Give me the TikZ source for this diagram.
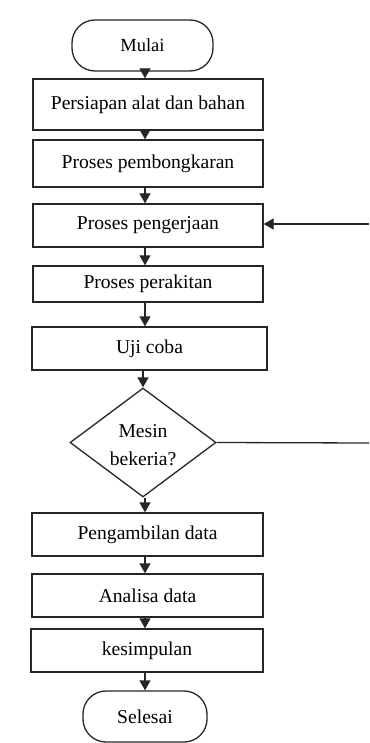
\documentclass[tikz,border=0pt]{standalone}
\usepackage{fontspec}
\setmainfont{Liberation Serif}
\usetikzlibrary{arrows.meta,shapes.geometric}
\begin{document}
\begin{tikzpicture}[x=1pt,y=-1pt,
  base/.style={draw=black!85,line width=1.3pt,inner sep=0pt,align=center,
    font=\fontsize{19.6}{27}\selectfont},
  boxnode/.style={base,rectangle},
  term/.style={base,rectangle,rounded corners=23pt},
  decide/.style={base,diamond,minimum width=146pt,minimum height=109pt},
  arr/.style={draw=black!85,line width=1.3pt,-{Triangle[length=10pt,width=11pt]}},
  plain/.style={draw=black!85,line width=1.3pt}]
\useasboundingbox (0,0) rectangle (369,743);
\fill[white] (0,0) rectangle (369,743);
\coordinate (ax) at (145,0);
\node[term,minimum width=141pt,minimum height=51pt] (m) at (142.5,45.5) {\fontsize{18.5}{22}\selectfont Mulai};
\node[boxnode,minimum width=230pt,minimum height=51pt] (b1) at (148,104.5) {Persiapan alat dan bahan};
\node[boxnode,minimum width=230pt,minimum height=47pt] (b2) at (148,163.5) {Proses pembongkaran};
\node[boxnode,minimum width=230pt,minimum height=43pt] (b3) at (148,225.5) {Proses pengerjaan};
\node[boxnode,minimum width=230pt,minimum height=36pt] (b4) at (148,284) {Proses perakitan};
\node[boxnode,minimum width=235pt,minimum height=43pt] (b5) at (149.5,348.5) {Uji coba};
\node[decide] (d) at (143,442.5) {};
\node[font=\fontsize{19.6}{27}\selectfont,inner sep=0pt] (dt1) at (143,431) {Mesin};
\node[font=\fontsize{19.6}{27}\selectfont,inner sep=0pt] (dt2) at (143,459) {bekeria?};
\node[boxnode,minimum width=231pt,minimum height=43pt] (b6) at (147.5,534.5) {Pengambilan data};
\node[boxnode,minimum width=231pt,minimum height=43pt] (b7) at (147.5,595.5) {Analisa data};
\node[boxnode,minimum width=232pt,minimum height=43pt] (b8) at (147,650.5) {kesimpulan};
\node[term,minimum width=124pt,minimum height=51pt] (s) at (145,716.5) {Selesai};
\coordinate (r1) at (369,443);
\coordinate (r2) at (369,224);
\draw[arr] (m.south -| ax) -- (b1.north -| ax);
\draw[arr] (b1.south -| ax) -- (b2.north -| ax);
\draw[arr] (b2.south -| ax) -- (b3.north -| ax);
\draw[arr] (b3.south -| ax) -- (b4.north -| ax);
\draw[arr] (b4.south -| ax) -- (b5.north -| ax);
\draw[arr] (b5.south -| d.north) -- (d.north);
\draw[arr] (d.south -| ax) -- (b6.north -| ax);
\draw[arr] (b6.south -| ax) -- (b7.north -| ax);
\draw[arr] (b7.south -| ax) -- (b8.north -| ax);
\draw[arr] (b8.south -| ax) -- (s.north -| ax);
\draw[plain] (d.east) -- (r1);
\draw[arr] (r2) -- (b3.east |- r2);
\end{tikzpicture}
\end{document}
